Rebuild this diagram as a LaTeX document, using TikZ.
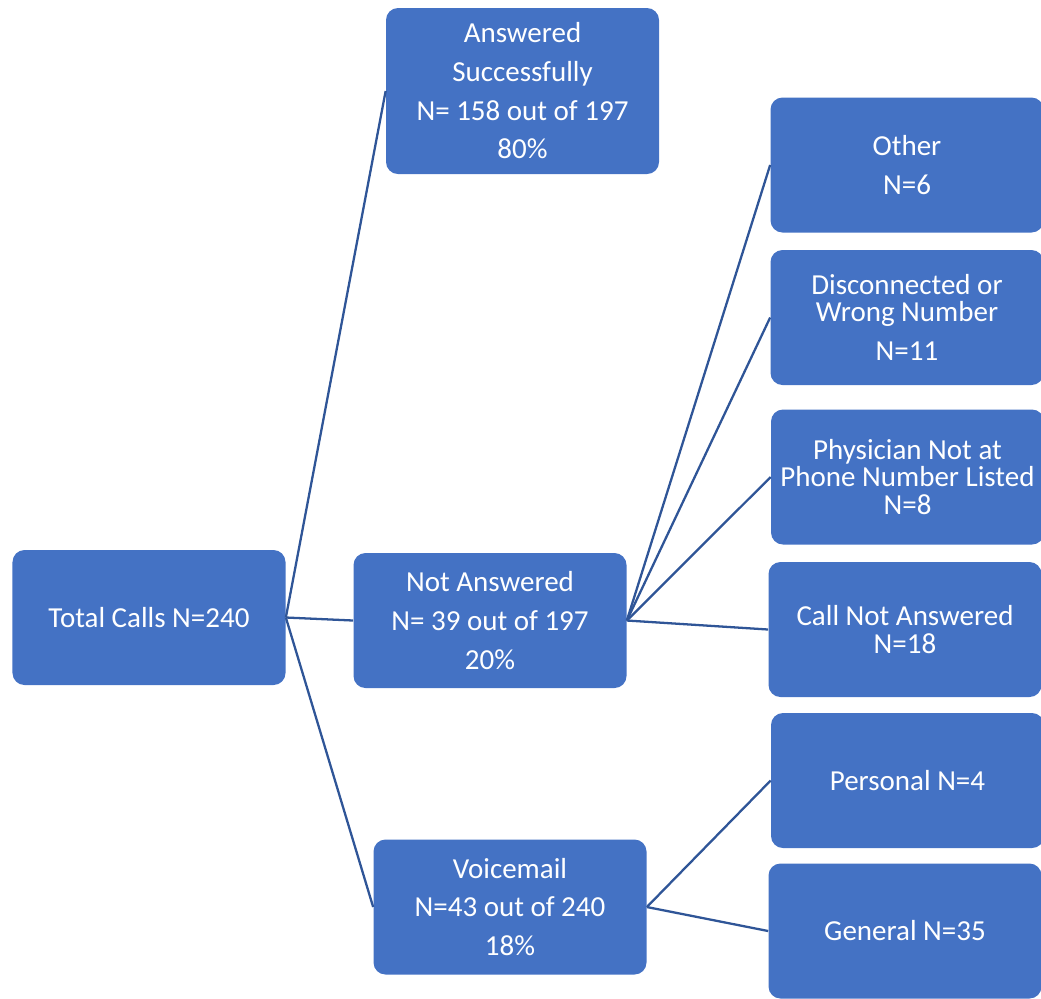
\documentclass[tikz,border=0pt]{standalone}
\usepackage{fontspec}
\setmainfont{Carlito}
\definecolor{boxBlue}{RGB}{68,114,196}
\definecolor{lineBlue}{RGB}{47,85,151}
\tikzset{
  callbox/.style={fill=boxBlue, text=white, rounded corners=0.24cm, align=center,
    minimum width=5.46cm, minimum height=2.7cm, inner sep=0pt,
    font=\fontsize{16.5}{15.5}\selectfont},
  link/.style={draw=lineBlue, line width=1.3pt}
}

\begin{document}
\begin{tikzpicture}
\useasboundingbox (0,0) rectangle (20.82,-19.96);

% Draw total
\node[callbox] (total) at (2.98,-12.35) {Total Calls N=240};

% Draw middle column
\node[callbox, minimum height=3.32cm] (answered) at (10.45,-1.82)
  {Answered\\[6.5pt] Successfully\\[6.5pt] N= 158 out of 197\\[6.5pt] 80\%};
\node[callbox] (notanswered) at (9.8,-12.41)
  {Not Answered\\[6.5pt] N= 39 out of 197\\[6.5pt] 20\%};
\node[callbox] (voicemail) at (10.2,-18.14)
  {Voicemail\\[6.5pt] N=43 out of 240\\[6.5pt] 18\%};

% Draw reasons not answered
\node[callbox] (other) at (18.14,-3.3) {Other\\[6.5pt] N=6};
\node[callbox] (wrongnum) at (18.14,-6.35)
  {Disconnected or\\ Wrong Number\\[6.5pt] N=11};
\node[callbox] (physician) at (18.15,-9.54)
  {Physician Not at\\ Phone Number Listed\\ N=8};
\node[callbox] (noanswer) at (18.1,-12.59) {Call Not Answered\\ N=18};

% Draw voicemail types
\node[callbox] (personal) at (18.15,-15.61) {Personal N=4};
\node[callbox] (general) at (18.1,-18.62) {General N=35};

% Connectors
\draw[link] (total.east) -- (answered.west);
\draw[link] (total.east) -- (notanswered.west);
\draw[link] (total.east) -- (voicemail.west);
\draw[link] (notanswered.east) -- (other.west);
\draw[link] (notanswered.east) -- (wrongnum.west);
\draw[link] (notanswered.east) -- (physician.west);
\draw[link] (notanswered.east) -- (noanswer.west);
\draw[link] (voicemail.east) -- (personal.west);
\draw[link] (voicemail.east) -- (general.west);
\end{tikzpicture}
\end{document}
